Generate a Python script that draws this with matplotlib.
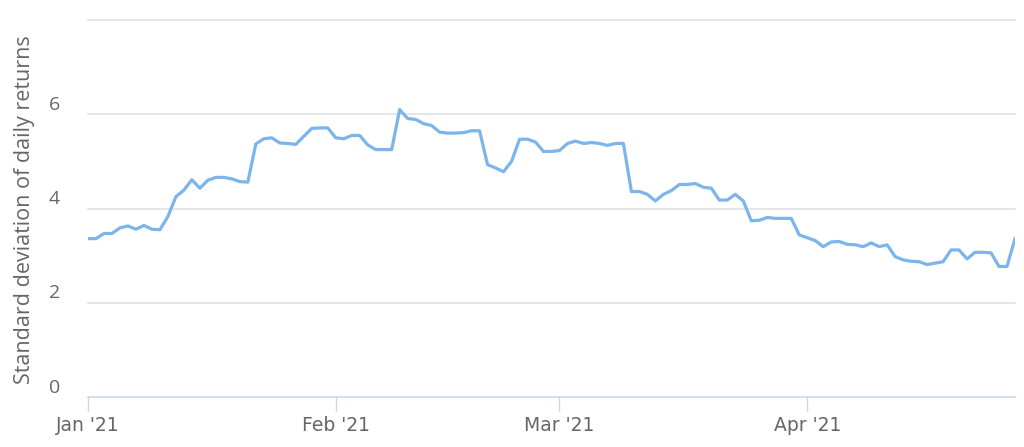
import numpy as np
import pandas as pd
import matplotlib
matplotlib.use("Agg")
import matplotlib.pyplot as plt
import matplotlib.dates as mdates

# daily values, Jan 1 2021 .. Apr 27 2021
start_date = "2021-01-01"
std_values = [
    3.36, 3.36, 3.47, 3.47, 3.59, 3.63, 3.56, 3.64, 3.56, 3.55,
    3.83, 4.25, 4.39, 4.61, 4.43, 4.60, 4.66, 4.66, 4.63, 4.57,
    4.56, 5.37, 5.48, 5.50, 5.39, 5.38, 5.36, 5.53, 5.70, 5.71,
    5.71, 5.50, 5.48, 5.55, 5.55, 5.35, 5.25, 5.25, 5.25, 6.10,
    5.91, 5.89, 5.80, 5.76, 5.62, 5.60, 5.60, 5.61, 5.65, 5.65,
    4.93, 4.86, 4.78, 5.00, 5.47, 5.47, 5.41, 5.21, 5.21, 5.23,
    5.38, 5.43, 5.38, 5.40, 5.38, 5.34, 5.38, 5.38, 4.36, 4.36,
    4.30, 4.16, 4.30, 4.38, 4.51, 4.51, 4.53, 4.45, 4.43, 4.18,
    4.18, 4.30, 4.16, 3.74, 3.75, 3.81, 3.79, 3.79, 3.79, 3.44,
    3.38, 3.32, 3.19, 3.29, 3.30, 3.24, 3.23, 3.19, 3.27, 3.19,
    3.23, 2.98, 2.91, 2.88, 2.87, 2.81, 2.84, 2.87, 3.12, 3.12,
    2.93, 3.07, 3.07, 3.06, 2.77, 2.77, 3.36,
]
y_ticks = [0, 2, 4, 6]
y_label = "Standard deviation of daily returns"

dates = pd.date_range(start_date, periods=len(std_values), freq="D")

fig = plt.figure(figsize=(10.24, 4.47), dpi=100)
ax = fig.add_axes([88 / 1024, 1 - 397 / 447, (1015 - 88) / 1024, (397 - 20) / 447])

# gridlines
for g in [2, 4, 6, 8]:
    ax.axhline(g, color="#e0e0e0", lw=1.2, zorder=0, clip_on=False)

ax.plot(dates, std_values, color="#7cb5ec", lw=2.3, solid_joinstyle="round", zorder=3)

ax.set_xlim(dates[0], dates[-1])
ax.set_ylim(0, 8)

for side in ["top", "right", "left"]:
    ax.spines[side].set_visible(False)
ax.spines["bottom"].set_color("#ccd6eb")
ax.spines["bottom"].set_linewidth(1.2)

# x axis: month ticks
ax.xaxis.set_major_locator(mdates.MonthLocator())
ax.xaxis.set_major_formatter(mdates.DateFormatter("%b '%y"))
ax.tick_params(axis="x", length=10, width=1, color="#ccd6eb", colors="#666666",
               labelsize=13.5, pad=4)
for lbl in ax.get_xticklabels():
    lbl.set_family(["Liberation Sans Narrow", "DejaVu Sans"])
    lbl.set_color("#666666")

# y axis labels sit just above the gridlines, no tick marks
ax.set_yticks([])
for t in y_ticks:
    ax.text(-0.036, t + 0.2, str(t), transform=ax.get_yaxis_transform(),
            ha="center", va="center", fontsize=14, color="#666666",
            family=["Open Sans", "DejaVu Sans"])

fig.text(25 / 1024, 1 - 210 / 447, y_label, rotation=90, ha="center", va="center",
         fontsize=15.5, color="#666666", family=["Open Sans", "DejaVu Sans"])

fig.savefig("out.png", dpi=100, facecolor="white")
